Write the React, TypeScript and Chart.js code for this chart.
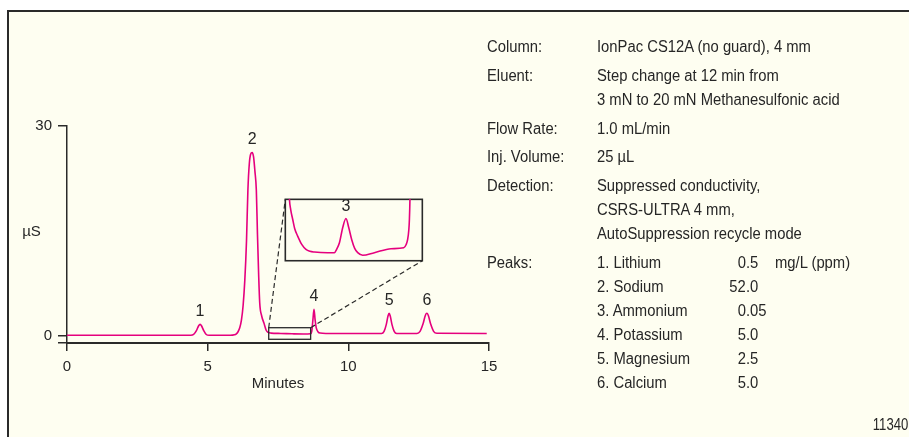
import React, { useEffect, useRef } from 'react';
import { Chart, registerables } from 'chart.js';

Chart.register(...registerables);

// ---------- main chromatogram (minutes, µS) ----------
const TIME = [
  0, 4.40, 4.50, 4.60, 4.68, 4.73, 4.78, 4.86, 4.95, 5.05,
  5.80, 5.95, 6.02, 6.08, 6.14, 6.20, 6.26, 6.32, 6.38, 6.43,
  6.48, 6.53, 6.58, 6.63, 6.68, 6.73, 6.77, 6.81, 6.85, 6.92,
  7.00, 7.08, 7.15, 7.25, 7.60, 8.00, 8.40, 8.66, 8.70, 8.74,
  8.78, 8.82, 8.86, 8.92, 9.00, 9.20, 11.18, 11.27, 11.35, 11.41,
  11.45, 11.49, 11.55, 11.63, 11.72, 12.44, 12.55, 12.65, 12.74, 12.79,
  12.84, 12.93, 13.03, 13.15, 14.92,
];
const SIGNAL = [
  0.03, 0.03, 0.15, 0.7, 1.4, 1.6, 1.4, 0.7, 0.15, 0.03,
  0.03, 0.1, 0.25, 0.54, 1.1, 2.2, 4.3, 7.9, 13.5, 20.8,
  24.6, 26.0, 26.2, 25.6, 23.5, 20.8, 14.5, 9.0, 4.7, 2.8,
  1.8, 0.75, 0.45, 0.35, 0.3, 0.25, 0.22, 0.25, 0.6, 2.2,
  3.75, 2.2, 1.1, 0.55, 0.35, 0.3, 0.3, 0.6, 1.6, 2.8,
  3.18, 2.8, 1.6, 0.6, 0.3, 0.3, 0.6, 1.6, 2.9, 3.18,
  2.9, 1.6, 0.6, 0.32, 0.3,
];

const X_TICKS = [0, 5, 10, 15];
const Y_TICKS = [0, 30];
const Y_MIN = -1.07;
const X_TITLE = 'Minutes';
const Y_TITLE = 'µS';

const PEAK_LABELS = ['1', '2', '4', '5', '6'];
const PEAK_TIMES = [4.73, 6.58, 8.78, 11.45, 12.79];
const PEAK_HEIGHTS = [1.6, 26.2, 3.75, 3.18, 3.18];

// ---------- magnified inset ----------
const INSET_TIME = [
  7.205, 7.218, 7.232, 7.254, 7.275, 7.308, 7.352, 7.398, 7.441, 7.490,
  7.634, 7.707, 7.732, 7.762, 7.798, 7.833, 7.863, 7.895, 7.928, 7.961,
  8.015, 8.142, 8.323, 8.461, 8.488, 8.504, 8.517, 8.523, 8.529, 8.534,
];
const INSET_SIGNAL = [
  0.9, 0.6, 0.496, 0.398, 0.31, 0.235, 0.153, 0.104, 0.085, 0.078,
  0.072, 0.072, 0.105, 0.169, 0.32, 0.408, 0.32, 0.202, 0.114, 0.072,
  0.046, 0.072, 0.111, 0.121, 0.153, 0.202, 0.30, 0.398, 0.6, 0.9,
];
const INSET_PEAK_LABEL = '3';
const INSET_PEAK_TIME = 7.833;
const INSET_PEAK_HEIGHT = 0.408;
const ZOOM_X = [7.17, 8.66];
const ZOOM_Y = [-0.54, 1.12];
const INSET_AT_X = [7.76, 12.63];
const INSET_AT_Y = [10.71, 19.5];
const INSET_Y_RANGE = [0, 0.6];

// ---------- conditions panel ----------
const INFO_LABELS = ['Column:', 'Eluent:', 'Flow Rate:', 'Inj. Volume:', 'Detection:', 'Peaks:'];
const INFO_VALUES = [
  ['IonPac CS12A (no guard), 4 mm'],
  ['Step change at 12 min from', '3 mN to 20 mN Methanesulfonic acid'],
  ['1.0 mL/min'],
  ['25 µL'],
  ['Suppressed conductivity,', 'CSRS-ULTRA 4 mm,', 'AutoSuppression recycle mode'],
];
const PEAK_NAMES = ['1. Lithium', '2. Sodium', '3. Ammonium', '4. Potassium', '5. Magnesium', '6. Calcium'];
const PEAK_AMOUNTS = ['0.5', '52.0', '0.05', '5.0', '2.5', '5.0'];
const AMOUNT_UNIT = 'mg/L (ppm)';
const FIGURE_ID = '11340';

const TRACE_COLOR = '#e5007e';
const AXIS_COLOR = '#2a2a2a';
const TEXT_COLOR = '#262626';
const BG = '#fefef1';
const FONT_FAMILY = '"Liberation Sans", Arial, Helvetica, sans-serif';
const TICK_FONT = { family: FONT_FAMILY, size: 15 };

const LINE_H = 24;
const GROUP_GAP = 4.8;
const FIRST_CENTER = 47;

function Txt({ children, origin = 'left', sx = 0.925 }: { children: React.ReactNode; origin?: string; sx?: number }) {
  return (
    <span
      style={{
        display: 'inline-block',
        whiteSpace: 'pre',
        transform: `scaleX(${sx})`,
        transformOrigin: origin === 'left' ? '0 50%' : '100% 50%',
      }}
    >
      {children}
    </span>
  );
}

export default function App() {
  const mainRef = useRef<HTMLCanvasElement>(null);
  const insetRef = useRef<HTMLCanvasElement>(null);

  useEffect(() => {
    const mainCanvas = mainRef.current!;
    const insetCanvas = insetRef.current!;

    const overlay = {
      id: 'overlay',
      afterDraw(chart: any) {
        const { ctx, chartArea, scales } = chart;
        const x = scales.x;
        const y = scales.y;
        ctx.save();
        ctx.fillStyle = TEXT_COLOR;
        ctx.font = `15px ${FONT_FAMILY}`;
        ctx.textAlign = 'center';
        ctx.textBaseline = 'middle';
        ctx.fillText(Y_TITLE, chartArea.left - 35.5, y.getPixelForValue(14.8));
        ctx.font = `16px ${FONT_FAMILY}`;
        PEAK_LABELS.forEach((lab, i) => {
          ctx.fillText(lab, x.getPixelForValue(PEAK_TIMES[i]), y.getPixelForValue(PEAK_HEIGHTS[i]) - 12.5);
        });
        // zoom box
        ctx.strokeStyle = AXIS_COLOR;
        ctx.lineWidth = 1.3;
        const zx0 = x.getPixelForValue(ZOOM_X[0]);
        const zx1 = x.getPixelForValue(ZOOM_X[1]);
        const zy0 = y.getPixelForValue(ZOOM_Y[1]);
        const zy1 = y.getPixelForValue(ZOOM_Y[0]);
        ctx.strokeRect(zx0, zy0, zx1 - zx0, zy1 - zy0);
        const ix0 = x.getPixelForValue(INSET_AT_X[0]);
        const ix1 = x.getPixelForValue(INSET_AT_X[1]);
        const iy0 = y.getPixelForValue(INSET_AT_Y[1]);
        const iy1 = y.getPixelForValue(INSET_AT_Y[0]);
        ctx.lineWidth = 1.6;
        ctx.strokeRect(ix0, iy0, ix1 - ix0, iy1 - iy0);
        ctx.lineWidth = 1.2;
        ctx.setLineDash([5, 3]);
        ctx.beginPath();
        ctx.moveTo(zx0, zy0);
        ctx.lineTo(ix0, iy0);
        ctx.moveTo(zx1, zy0);
        ctx.lineTo(ix1, iy1);
        ctx.stroke();
        ctx.restore();
      },
    };

    const main = new Chart(mainCanvas, {
      type: 'line',
      data: {
        datasets: [
          {
            data: TIME.map((t, i) => ({ x: t, y: SIGNAL[i] })),
            borderColor: TRACE_COLOR,
            borderWidth: 1.6,
            pointRadius: 0,
            fill: false,
            cubicInterpolationMode: 'monotone',
          },
        ],
      },
      options: {
        animation: false,
        responsive: false,
        maintainAspectRatio: false,
        events: [],
        layout: { padding: { left: 0, top: 126, right: 420, bottom: 0 } },
        plugins: { legend: { display: false }, tooltip: { enabled: false } },
        scales: {
          x: {
            type: 'linear',
            min: X_TICKS[0],
            max: X_TICKS[X_TICKS.length - 1],
            afterFit: (s: any) => { s.height = 94; },
            afterBuildTicks: (s: any) => { s.ticks = X_TICKS.map((v) => ({ value: v })); },
            ticks: { color: TEXT_COLOR, font: TICK_FONT, padding: 7, maxRotation: 0, autoSkip: false },
            grid: { drawOnChartArea: false, drawTicks: true, tickLength: 8, color: AXIS_COLOR, lineWidth: 1.5 },
            border: { display: true, color: AXIS_COLOR, width: 2 },
            title: { display: true, text: X_TITLE, color: TEXT_COLOR, font: TICK_FONT, padding: { top: 0, bottom: 44.5 } },
          },
          y: {
            type: 'linear',
            min: Y_MIN,
            max: Y_TICKS[Y_TICKS.length - 1],
            afterFit: (s: any) => { s.width = 67; },
            afterBuildTicks: (s: any) => { s.ticks = [Y_MIN, ...Y_TICKS].map((v) => ({ value: v })); },
            ticks: {
              color: TEXT_COLOR,
              font: TICK_FONT,
              padding: 6,
              autoSkip: false,
              callback: (v: any) => (Y_TICKS.includes(v) ? String(v) : ''),
            },
            grid: { drawOnChartArea: false, drawTicks: true, tickLength: 9, color: AXIS_COLOR, lineWidth: 1.5 },
            border: { display: true, color: AXIS_COLOR, width: 1.5 },
          },
        },
      } as any,
      plugins: [overlay],
    });

    const xs: any = main.scales.x;
    const ys: any = main.scales.y;
    const left = xs.getPixelForValue(INSET_AT_X[0]);
    const right = xs.getPixelForValue(INSET_AT_X[1]);
    const top = ys.getPixelForValue(INSET_AT_Y[1]);
    const bottom = ys.getPixelForValue(INSET_AT_Y[0]);
    const w = Math.round(right - left);
    const h = Math.round(bottom - top);
    insetCanvas.style.left = `${left}px`;
    insetCanvas.style.top = `${top}px`;
    insetCanvas.width = w;
    insetCanvas.height = h;
    insetCanvas.style.width = `${w}px`;
    insetCanvas.style.height = `${h}px`;

    const insetLabel = {
      id: 'insetLabel',
      afterDraw(chart: any) {
        const { ctx, scales } = chart;
        ctx.save();
        ctx.fillStyle = TEXT_COLOR;
        ctx.font = `16px ${FONT_FAMILY}`;
        ctx.textAlign = 'center';
        ctx.textBaseline = 'middle';
        ctx.fillText(
          INSET_PEAK_LABEL,
          scales.x.getPixelForValue(INSET_PEAK_TIME),
          scales.y.getPixelForValue(INSET_PEAK_HEIGHT) - 12,
        );
        ctx.restore();
      },
    };

    const inset = new Chart(insetCanvas, {
      type: 'line',
      data: {
        datasets: [
          {
            data: INSET_TIME.map((t, i) => ({ x: t, y: INSET_SIGNAL[i] })),
            borderColor: TRACE_COLOR,
            borderWidth: 1.6,
            pointRadius: 0,
            fill: false,
            cubicInterpolationMode: 'monotone',
          },
        ],
      },
      options: {
        animation: false,
        responsive: false,
        maintainAspectRatio: false,
        events: [],
        layout: { padding: 0 },
        plugins: { legend: { display: false }, tooltip: { enabled: false } },
        scales: {
          x: { type: 'linear', display: false, min: ZOOM_X[0], max: ZOOM_X[1] },
          y: { type: 'linear', display: false, min: INSET_Y_RANGE[0], max: INSET_Y_RANGE[1] },
        },
      } as any,
      plugins: [insetLabel],
    });

    return () => {
      inset.destroy();
      main.destroy();
    };
  }, []);

  const textBase: React.CSSProperties = {
    position: 'absolute',
    height: LINE_H,
    lineHeight: `${LINE_H}px`,
    fontFamily: FONT_FAMILY,
    fontSize: 16,
    color: TEXT_COLOR,
    whiteSpace: 'pre',
  };

  const items: React.ReactNode[] = [];
  let top = FIRST_CENTER - LINE_H / 2;
  INFO_LABELS.forEach((label, gi) => {
    items.push(
      <div key={`lab${gi}`} style={{ ...textBase, left: 487, top }}>
        <Txt>{label}</Txt>
      </div>,
    );
    const lines = INFO_VALUES[gi];
    if (lines) {
      lines.forEach((ln, k) => {
        items.push(
          <div key={`val${gi}-${k}`} style={{ ...textBase, left: 597, top: top + k * LINE_H }}>
            <Txt>{ln}</Txt>
          </div>,
        );
      });
      top += lines.length * LINE_H + GROUP_GAP;
    } else {
      PEAK_NAMES.forEach((name, k) => {
        const ty = top + k * LINE_H;
        const [intPart, decPart] = PEAK_AMOUNTS[k].split('.');
        items.push(
          <div key={`pn${k}`} style={{ ...textBase, left: 597, top: ty }}>
            <Txt>{name}</Txt>
          </div>,
        );
        items.push(
          <div key={`pi${k}`} style={{ ...textBase, left: 705, width: 40.5, textAlign: 'right', top: ty }}>
            <Txt origin="right">{intPart}</Txt>
          </div>,
        );
        items.push(
          <div key={`pd${k}`} style={{ ...textBase, left: 745.5, top: ty }}>
            <Txt>{`.${decPart}`}</Txt>
          </div>,
        );
        if (k === 0) {
          items.push(
            <div key="unit" style={{ ...textBase, left: 775, top: ty }}>
              <Txt>{AMOUNT_UNIT}</Txt>
            </div>,
          );
        }
      });
      top += PEAK_NAMES.length * LINE_H + GROUP_GAP;
    }
  });

  return (
    <div
      style={{
        position: 'fixed',
        left: 0,
        top: 0,
        width: 909,
        height: 437,
        background: '#ffffff',
        overflow: 'hidden',
      }}
    >
      <div
        style={{
          position: 'absolute',
          left: 7,
          top: 10,
          width: 920,
          height: 440,
          borderLeft: `2px solid ${AXIS_COLOR}`,
          borderTop: `2px solid ${AXIS_COLOR}`,
          background: BG,
        }}
      />
      <canvas
        ref={mainRef}
        width={909}
        height={437}
        style={{ position: 'absolute', left: 0, top: 0, width: 909, height: 437 }}
      />
      <canvas ref={insetRef} style={{ position: 'absolute' }} />
      {items}
      <div style={{ ...textBase, left: 808, width: 100, textAlign: 'right', top: 425 - LINE_H / 2 }}>
        <Txt origin="right" sx={0.82}>{FIGURE_ID}</Txt>
      </div>
    </div>
  );
}
